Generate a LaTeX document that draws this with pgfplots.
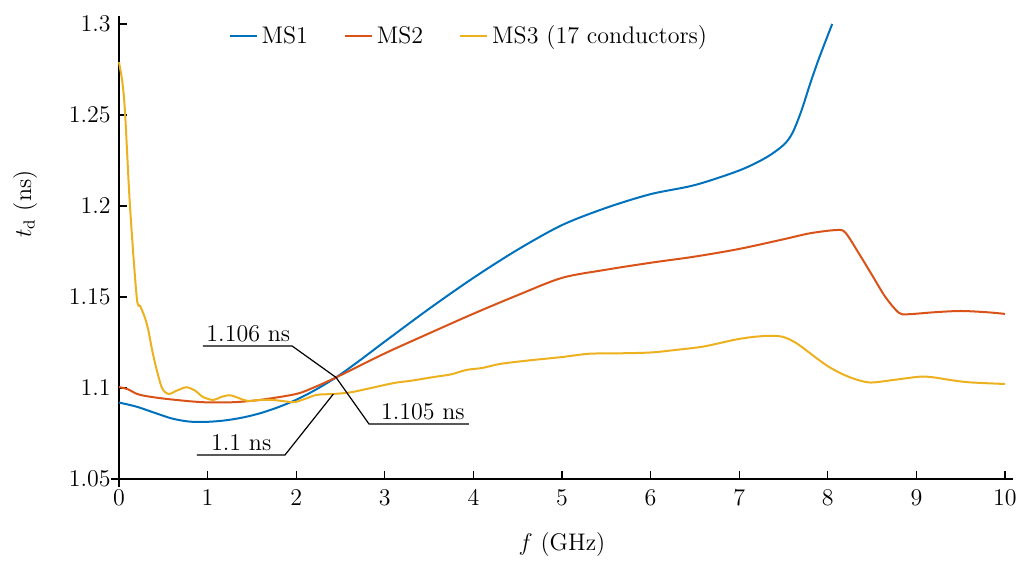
\documentclass[border=0pt]{standalone}
\usepackage{pgfplots}
\pgfplotsset{compat=1.18}

\definecolor{msblue}{rgb}{0.000,0.447,0.741}
\definecolor{msorange}{rgb}{0.850,0.325,0.098}
\definecolor{msyellow}{rgb}{0.929,0.694,0.125}

\begin{document}
\fontsize{12pt}{14.5pt}\selectfont
\begin{tikzpicture}[font=\fontsize{12pt}{14.5pt}\selectfont]
\begin{axis}[
  scale only axis,
  width=443pt, height=227.5pt,
  xmin=0, xmax=10, ymin=1.05, ymax=1.3,
  axis lines=left,
  axis line style={-, line width=0.6pt, shorten >=-4pt, shorten <=-4pt},
  xtick={0,1,...,10},
  ytick={1.05,1.1,1.15,1.2,1.25,1.3},
  yticklabels={1.05,1.1,1.15,1.2,1.25,1.3},
  tick align=inside,
  major tick length=4pt,
  tick style={line width=0.6pt, black},
  xticklabel style={yshift=-1.5pt},
  xlabel={$f$ (GHz)},
  ylabel={$t_\mathrm{d}$ (ns)},
  xlabel style={at={(axis description cs:0.5,-0.145)}, anchor=center},
  ylabel style={at={(axis description cs:-0.106,0.604)}, anchor=center},
  clip=false,
  legend columns=-1,
  legend style={at={(axis description cs:0.396,1.015)}, anchor=north,
    draw=none, fill=none,
    /tikz/every even column/.append style={column sep=16pt}},
  legend image code/.code={\draw[#1] (0pt,0pt) -- (13.5pt,0pt);},
  every axis plot/.append style={line width=1pt, smooth, tension=0.5},
]

\addplot[msblue] coordinates {
  (0,1.092) (0.2,1.0897) (0.4,1.0864) (0.6,1.0832) (0.8,1.0815) (1.0,1.0814)
  (1.2,1.0822) (1.4,1.0838) (1.6,1.0862) (1.8,1.0895) (2.0,1.0935) (2.2,1.0985)
  (2.45,1.1058) (2.7,1.1145) (3.0,1.1255) (3.5,1.1435) (4.0,1.1605) (4.5,1.1760)
  (5.0,1.1895) (5.5,1.1990) (6.0,1.2065) (6.5,1.2115) (7.0,1.2195) (7.3,1.2265)
  (7.5,1.2335) (7.6,1.2400) (7.7,1.2520) (7.8,1.2670) (7.9,1.2810) (8.05,1.3000)
};
\addlegendentry{MS1}

\addplot[msorange] coordinates {
  (0,1.1005) (0.1,1.0993) (0.2,1.0968) (0.3,1.0956) (0.5,1.0942) (0.8,1.0927)
  (1.0,1.0921) (1.3,1.0922) (1.6,1.0935) (2.0,1.0967) (2.2,1.1003) (2.45,1.1058)
  (3.0,1.1190) (3.5,1.1300) (4.0,1.1408) (4.5,1.1510) (5.0,1.1605) (5.5,1.1650)
  (6.0,1.1688) (6.5,1.1722) (7.0,1.1764) (7.5,1.1817) (7.8,1.1850) (8.1,1.1868)
  (8.2,1.1853) (8.35,1.1740) (8.5,1.1620) (8.65,1.1500) (8.8,1.1414) (8.9,1.1405)
  (9.2,1.1416) (9.5,1.1423) (9.8,1.1416) (10,1.1407)
};
\addlegendentry{MS2}

\addplot[msyellow] coordinates {
  (0,1.2790) (0.04,1.2674) (0.07,1.2500) (0.124,1.2000) (0.2,1.1500) (0.24,1.1450)
  (0.29,1.1390) (0.33,1.1320) (0.39,1.1172) (0.48,1.1007) (0.556,1.0967)
  (0.65,1.0985) (0.76,1.1004) (0.86,1.0985) (0.95,1.0950) (1.065,1.0934)
  (1.15,1.0950) (1.25,1.0960) (1.35,1.0945) (1.45,1.0929) (1.6,1.0934)
  (1.74,1.0934) (1.9,1.0925) (1.98,1.0922) (2.1,1.0940) (2.23,1.0962)
  (2.42,1.0967) (2.6,1.0975) (2.8,1.0995) (3.1,1.1027) (3.3,1.1040)
  (3.55,1.1060) (3.75,1.1075) (3.92,1.1099) (4.1,1.1110) (4.3,1.1132)
  (4.6,1.1150) (5.0,1.1170) (5.3,1.1188) (5.6,1.1190) (6.0,1.1195)
  (6.3,1.1210) (6.6,1.1228) (6.95,1.1265) (7.15,1.1280) (7.35,1.1287)
  (7.5,1.1280) (7.65,1.1245) (7.87,1.1165) (8.0,1.1120) (8.14,1.1082)
  (8.3,1.1050) (8.48,1.1030) (8.74,1.1044) (9.04,1.1062) (9.2,1.1058)
  (9.38,1.1044) (9.6,1.1031) (10,1.1022)
};
\addlegendentry{MS3 (17 conductors)}

% callouts for the crossing points
\draw[line width=0.6pt] (axis cs:0.948,1.1231) -- (axis cs:1.953,1.1231)
  -- (axis cs:2.45,1.1058) -- (axis cs:2.822,1.0802) -- (axis cs:3.95,1.0802);
\draw[line width=0.6pt] (axis cs:0.88,1.0632) -- (axis cs:1.874,1.0632)
  -- (axis cs:2.42,1.0967);
\node[anchor=south, inner sep=2pt] at (axis cs:1.46,1.1231) {1.106 ns};
\node[anchor=south, inner sep=2pt] at (axis cs:3.43,1.0802) {1.105 ns};
\node[anchor=south, inner sep=2pt] at (axis cs:1.38,1.0632) {1.1 ns};

% page extent
\path (rel axis cs:-0.1343,-0.178) rectangle (rel axis cs:1.0305,1.0527);
\end{axis}
\end{tikzpicture}
\end{document}
